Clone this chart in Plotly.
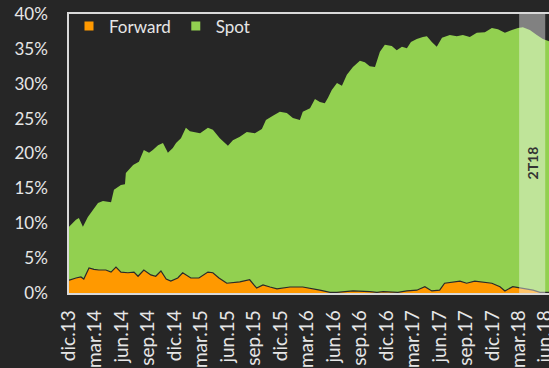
import plotly.graph_objects as go

# Spot share (top of the green area)
spot_dates = [
    "2013-12-31", "2014-01-24", "2014-02-03", "2014-02-17", "2014-03-06", "2014-03-24",
    "2014-04-10", "2014-04-27", "2014-05-25", "2014-06-04", "2014-06-28", "2014-07-12",
    "2014-07-15", "2014-08-09", "2014-08-29", "2014-09-15", "2014-10-03", "2014-10-16",
    "2014-11-03", "2014-11-20", "2014-12-07", "2014-12-24", "2015-01-04", "2015-01-21",
    "2015-02-07", "2015-02-21", "2015-03-03", "2015-03-28", "2015-04-24", "2015-05-11",
    "2015-06-04", "2015-07-02", "2015-07-19", "2015-08-12", "2015-09-05", "2015-10-03",
    "2015-10-27", "2015-11-10", "2015-12-04", "2015-12-28", "2016-01-21", "2016-02-11",
    "2016-03-06", "2016-03-16", "2016-04-10", "2016-04-27", "2016-05-14", "2016-05-31",
    "2016-06-11", "2016-06-24", "2016-07-12", "2016-07-29", "2016-08-15", "2016-09-05",
    "2016-09-29", "2016-10-16", "2016-11-02", "2016-11-20", "2016-12-07", "2016-12-24",
    "2017-01-17", "2017-02-03", "2017-02-21", "2017-03-10", "2017-03-24", "2017-04-13",
    "2017-05-04", "2017-05-18", "2017-06-04", "2017-06-21", "2017-07-09", "2017-08-05",
    "2017-08-29", "2017-09-19", "2017-10-13", "2017-11-06", "2017-12-04", "2017-12-28",
    "2018-01-18", "2018-02-11", "2018-03-07", "2018-03-28", "2018-04-14", "2018-05-08",
    "2018-06-01", "2018-06-22", "2018-07-13",
]
spot_values = [
    9.5, 10.5, 10.75, 9.5, 10.9, 11.9,
    12.9, 13.2, 13.0, 14.8, 15.5, 15.6,
    17.2, 18.35, 18.8, 20.5, 20.1, 20.5,
    21.2, 21.5, 20.1, 20.8, 21.5, 22.2,
    23.7, 23.2, 23.1, 22.9, 23.7, 23.4,
    22.2, 21.1, 21.9, 22.4, 23.1, 22.9,
    23.5, 24.8, 25.4, 26.0, 25.8, 25.1,
    24.8, 26.0, 26.5, 27.8, 27.4, 27.2,
    28.0, 29.1, 30.1, 29.7, 31.3, 32.4,
    33.3, 33.1, 32.5, 32.4, 34.6, 35.6,
    35.4, 34.8, 35.3, 35.1, 36.0, 36.4,
    36.7, 36.8, 36.0, 35.3, 36.6, 37.0,
    36.8, 37.0, 36.7, 37.3, 37.4, 38.0,
    37.8, 37.3, 37.7, 38.0, 38.1, 37.7,
    37.0, 36.4, 36.1,
]

# Forward share (orange area)
fwd_dates = [
    "2013-12-31", "2014-01-02", "2014-01-24", "2014-02-10", "2014-02-20", "2014-03-10",
    "2014-03-27", "2014-04-13", "2014-05-07", "2014-05-25", "2014-06-11", "2014-06-28",
    "2014-07-22", "2014-08-12", "2014-08-26", "2014-09-15", "2014-10-09", "2014-10-26",
    "2014-11-13", "2014-12-01", "2014-12-17", "2015-01-10", "2015-01-27", "2015-02-24",
    "2015-03-24", "2015-04-24", "2015-05-11", "2015-06-01", "2015-06-18", "2015-06-28",
    "2015-08-12", "2015-09-15", "2015-10-09", "2015-10-31", "2015-11-24", "2015-12-18",
    "2016-02-01", "2016-03-16", "2016-05-14", "2016-06-18", "2016-07-12", "2016-09-05",
    "2016-11-02", "2016-11-27", "2016-12-18", "2017-01-21", "2017-02-07", "2017-03-10",
    "2017-04-13", "2017-05-11", "2017-06-04", "2017-07-01", "2017-07-18", "2017-09-09",
    "2017-10-02", "2017-10-30", "2017-11-27", "2017-12-28", "2018-01-25", "2018-02-11",
    "2018-03-10", "2018-04-14", "2018-05-19", "2018-06-12", "2018-07-13",
]
fwd_values = [
    1.9, 1.86, 2.15, 2.3, 2.0, 3.6,
    3.4, 3.3, 3.3, 3.0, 3.7, 3.0,
    2.9, 3.0, 2.4, 3.3, 2.6, 2.4,
    3.15, 2.0, 1.7, 2.15, 2.9, 2.15,
    2.15, 3.0, 2.9, 2.15, 1.7, 1.4,
    1.6, 1.9, 0.7, 1.15, 0.86, 0.6,
    0.86, 0.86, 0.4, 0.1, 0.1, 0.3,
    0.2, 0.1, 0.2, 0.1, 0.1, 0.3,
    0.4, 0.9, 0.3, 0.4, 1.4, 1.7,
    1.4, 1.7, 1.55, 1.4, 0.9, 0.3,
    0.9, 0.7, 0.4, 0.1, 0.1,
]

# Quarter-end tick positions and labels
tick_dates = [
    "2013-12-31", "2014-03-31", "2014-06-30", "2014-09-30", "2014-12-31",
    "2015-03-31", "2015-06-30", "2015-09-30", "2015-12-31",
    "2016-03-31", "2016-06-30", "2016-09-30", "2016-12-31",
    "2017-03-31", "2017-06-30", "2017-09-30", "2017-12-31",
    "2018-03-31", "2018-06-30",
]
tick_labels = [
    "dic.13", "mar.14", "jun.14", "sep.14", "dic.14",
    "mar.15", "jun.15", "sep.15", "dic.15",
    "mar.16", "jun.16", "sep.16", "dic.16",
    "mar.17", "jun.17", "sep.17", "dic.17",
    "mar.18", "jun.18",
]

# Highlighted quarter
band_start, band_end, band_label = "2018-04-01", "2018-06-30", "2T18"

BG = "#262626"
GREEN = "#92D050"
ORANGE = "#FF9900"
TXT = "#e6e6e6"
FONT = "Lato"

fig = go.Figure()

fig.add_trace(go.Scatter(
    x=spot_dates, y=[v / 100 for v in spot_values], mode="lines",
    line=dict(width=0, color=GREEN), fill="tozeroy", fillcolor=GREEN,
    showlegend=False, hoverinfo="skip",
))
fig.add_trace(go.Scatter(
    x=fwd_dates, y=[v / 100 for v in fwd_values], mode="lines",
    line=dict(width=1.2, color="#2a2a2a"), fill="tozeroy", fillcolor=ORANGE,
    showlegend=False, hoverinfo="skip",
))

# Legend entries with square swatches
for name, col in [("Forward", ORANGE), ("Spot", GREEN)]:
    fig.add_trace(go.Scatter(
        x=[None], y=[None], mode="markers", name=name,
        marker=dict(symbol="square", size=9, color=col),
    ))

fig.add_vrect(
    x0=band_start, x1=band_end, fillcolor="rgba(255,255,255,0.42)",
    line_width=0, layer="above",
)
fig.add_annotation(
    x="2018-05-16", y=0.186, text=f"<b>{band_label}</b>", textangle=-90,
    showarrow=False, font=dict(family=FONT, size=14, color="#333333"),
)

fig.update_layout(
    width=549, height=368,
    margin=dict(l=69, r=0, t=14, b=75, autoexpand=False),
    paper_bgcolor=BG, plot_bgcolor=BG,
    font=dict(family=FONT, size=17, color=TXT),
    showlegend=True,
    legend=dict(
        orientation="h", x=0.0, y=1.02, xanchor="left", yanchor="top",
        bgcolor="rgba(0,0,0,0)", font=dict(family=FONT, size=17, color=TXT),
        itemwidth=30, tracegroupgap=0,
    ),
    xaxis=dict(
        type="date", range=["2013-12-31", "2018-07-13"],
        tickvals=tick_dates, ticktext=tick_labels, tickangle=-90,
        showgrid=False, zeroline=False, showline=True, mirror=True,
        linecolor="#d9d9d9", linewidth=1.5, ticks="",
        ticklabelstandoff=8, ticklabeloverflow="allow", automargin=False,
        tickfont=dict(family=FONT, size=19, color=TXT),
    ),
    yaxis=dict(
        range=[0, 0.4], dtick=0.05, tickformat=".0%",
        showgrid=False, zeroline=False, showline=True, automargin=False,
        linecolor="#d9d9d9", linewidth=1.5, ticks="",
        ticklabelstandoff=16, tickfont=dict(family=FONT, size=17, color=TXT),
    ),
)

fig.write_html("out.html")
